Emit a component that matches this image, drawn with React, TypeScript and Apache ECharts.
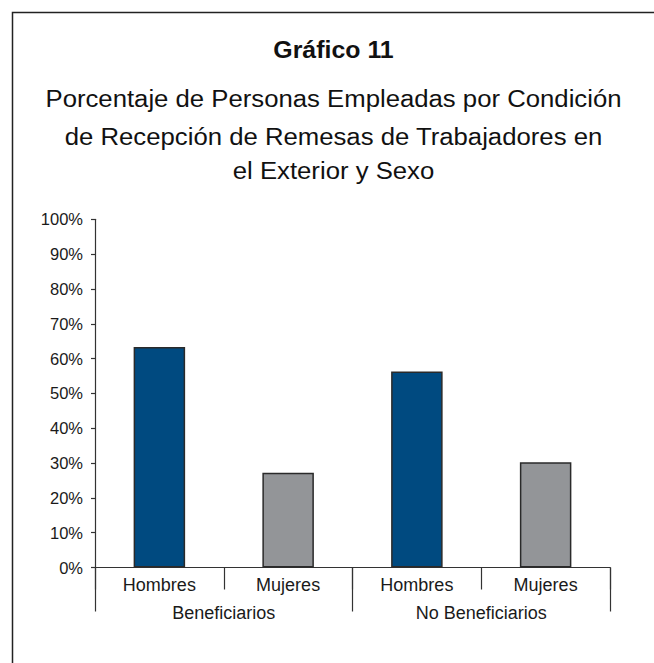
import React, { useEffect, useRef } from "react";
import * as echarts from "echarts";

const titleText = "Gráfico 11";
const subtitleLines = [
  "Porcentaje de Personas Empleadas por Condición",
  "de Recepción de Remesas de Trabajadores en",
  "el Exterior y Sexo",
];
const sexCategories = ["Hombres", "Mujeres", "Hombres", "Mujeres"];
const groupCategories = ["Beneficiarios", "No Beneficiarios"];
const values = [63.3, 27.2, 56.3, 30.2];
const barColors = ["#004A80", "#939598", "#004A80", "#939598"];
const yTicks = [0, 10, 20, 30, 40, 50, 60, 70, 80, 90, 100];

export default function App() {
  const ref = useRef<HTMLDivElement>(null);
  useEffect(() => {
    document.body.style.margin = "0";
    if (!ref.current) return;
    const chart = echarts.init(ref.current, undefined, { renderer: "svg" });
    const font = "'Liberation Sans', Arial, sans-serif";
    const lineYs = [98.7, 136.2, 170.5];
    chart.setOption({
      animation: false,
      backgroundColor: "#ffffff",
      textStyle: { fontFamily: font },
      grid: { left: 95, right: 44, top: 219.3, bottom: 95.5, containLabel: false },
      xAxis: [
        {
          type: "category",
          data: sexCategories,
          position: "bottom",
          axisLine: { show: true, lineStyle: { color: "#333", width: 1.2 } },
          axisTick: { show: true, length: 22, lineStyle: { color: "#333", width: 1.2 } },
          axisLabel: { color: "#1a1a1a", fontSize: 18, margin: 8, fontFamily: font },
          splitLine: { show: false },
        },
        {
          type: "category",
          data: groupCategories,
          position: "bottom",
          offset: 0,
          axisLine: { show: false },
          axisTick: { show: true, length: 44, lineStyle: { color: "#333", width: 1.2 } },
          axisLabel: { color: "#1a1a1a", fontSize: 18, margin: 36, fontFamily: font },
          splitLine: { show: false },
        },
      ],
      yAxis: {
        type: "value",
        min: 0,
        max: 100,
        interval: 10,
        axisLine: { show: true, lineStyle: { color: "#333", width: 1.2 } },
        axisTick: { show: true, length: 4, lineStyle: { color: "#333", width: 1.2 } },
        axisLabel: {
          color: "#1a1a1a",
          fontSize: 16.5,
          margin: 12,
          fontFamily: font,
          formatter: (v: number) => (yTicks.includes(v) ? v + "%" : ""),
        },
        splitLine: { show: false },
      },
      series: [
        {
          type: "bar",
          xAxisIndex: 0,
          barWidth: "40%",
          data: values.map((v, i) => ({
            value: v,
            itemStyle: { color: barColors[i], borderColor: "#2a2a2a", borderWidth: 1.5 },
          })),
        },
      ],
      graphic: [
        {
          type: "rect",
          shape: { x: 12.5, y: 12.5, width: 700, height: 700 },
          style: { fill: "none", stroke: "#222", lineWidth: 1.5 },
          silent: true,
        },
        {
          type: "text",
          x: 333.5,
          y: 50,
          scaleX: 1.06,
          style: {
            text: titleText,
            font: "bold 23.5px " + font,
            fill: "#111",
            align: "center",
            verticalAlign: "middle",
            textAlign: "center",
            textVerticalAlign: "middle",
          },
        },
        ...subtitleLines.map((t, i) => ({
          type: "text",
          x: 333.5,
          y: lineYs[i],
          scaleX: 1.05,
          style: {
            text: t,
            font: "24.5px " + font,
            fill: "#111",
            align: "center",
            verticalAlign: "middle",
            textAlign: "center",
            textVerticalAlign: "middle",
          },
        })),
      ],
    });
    return () => chart.dispose();
  }, []);
  return <div ref={ref} style={{ width: 654, height: 663 }} />;
}
